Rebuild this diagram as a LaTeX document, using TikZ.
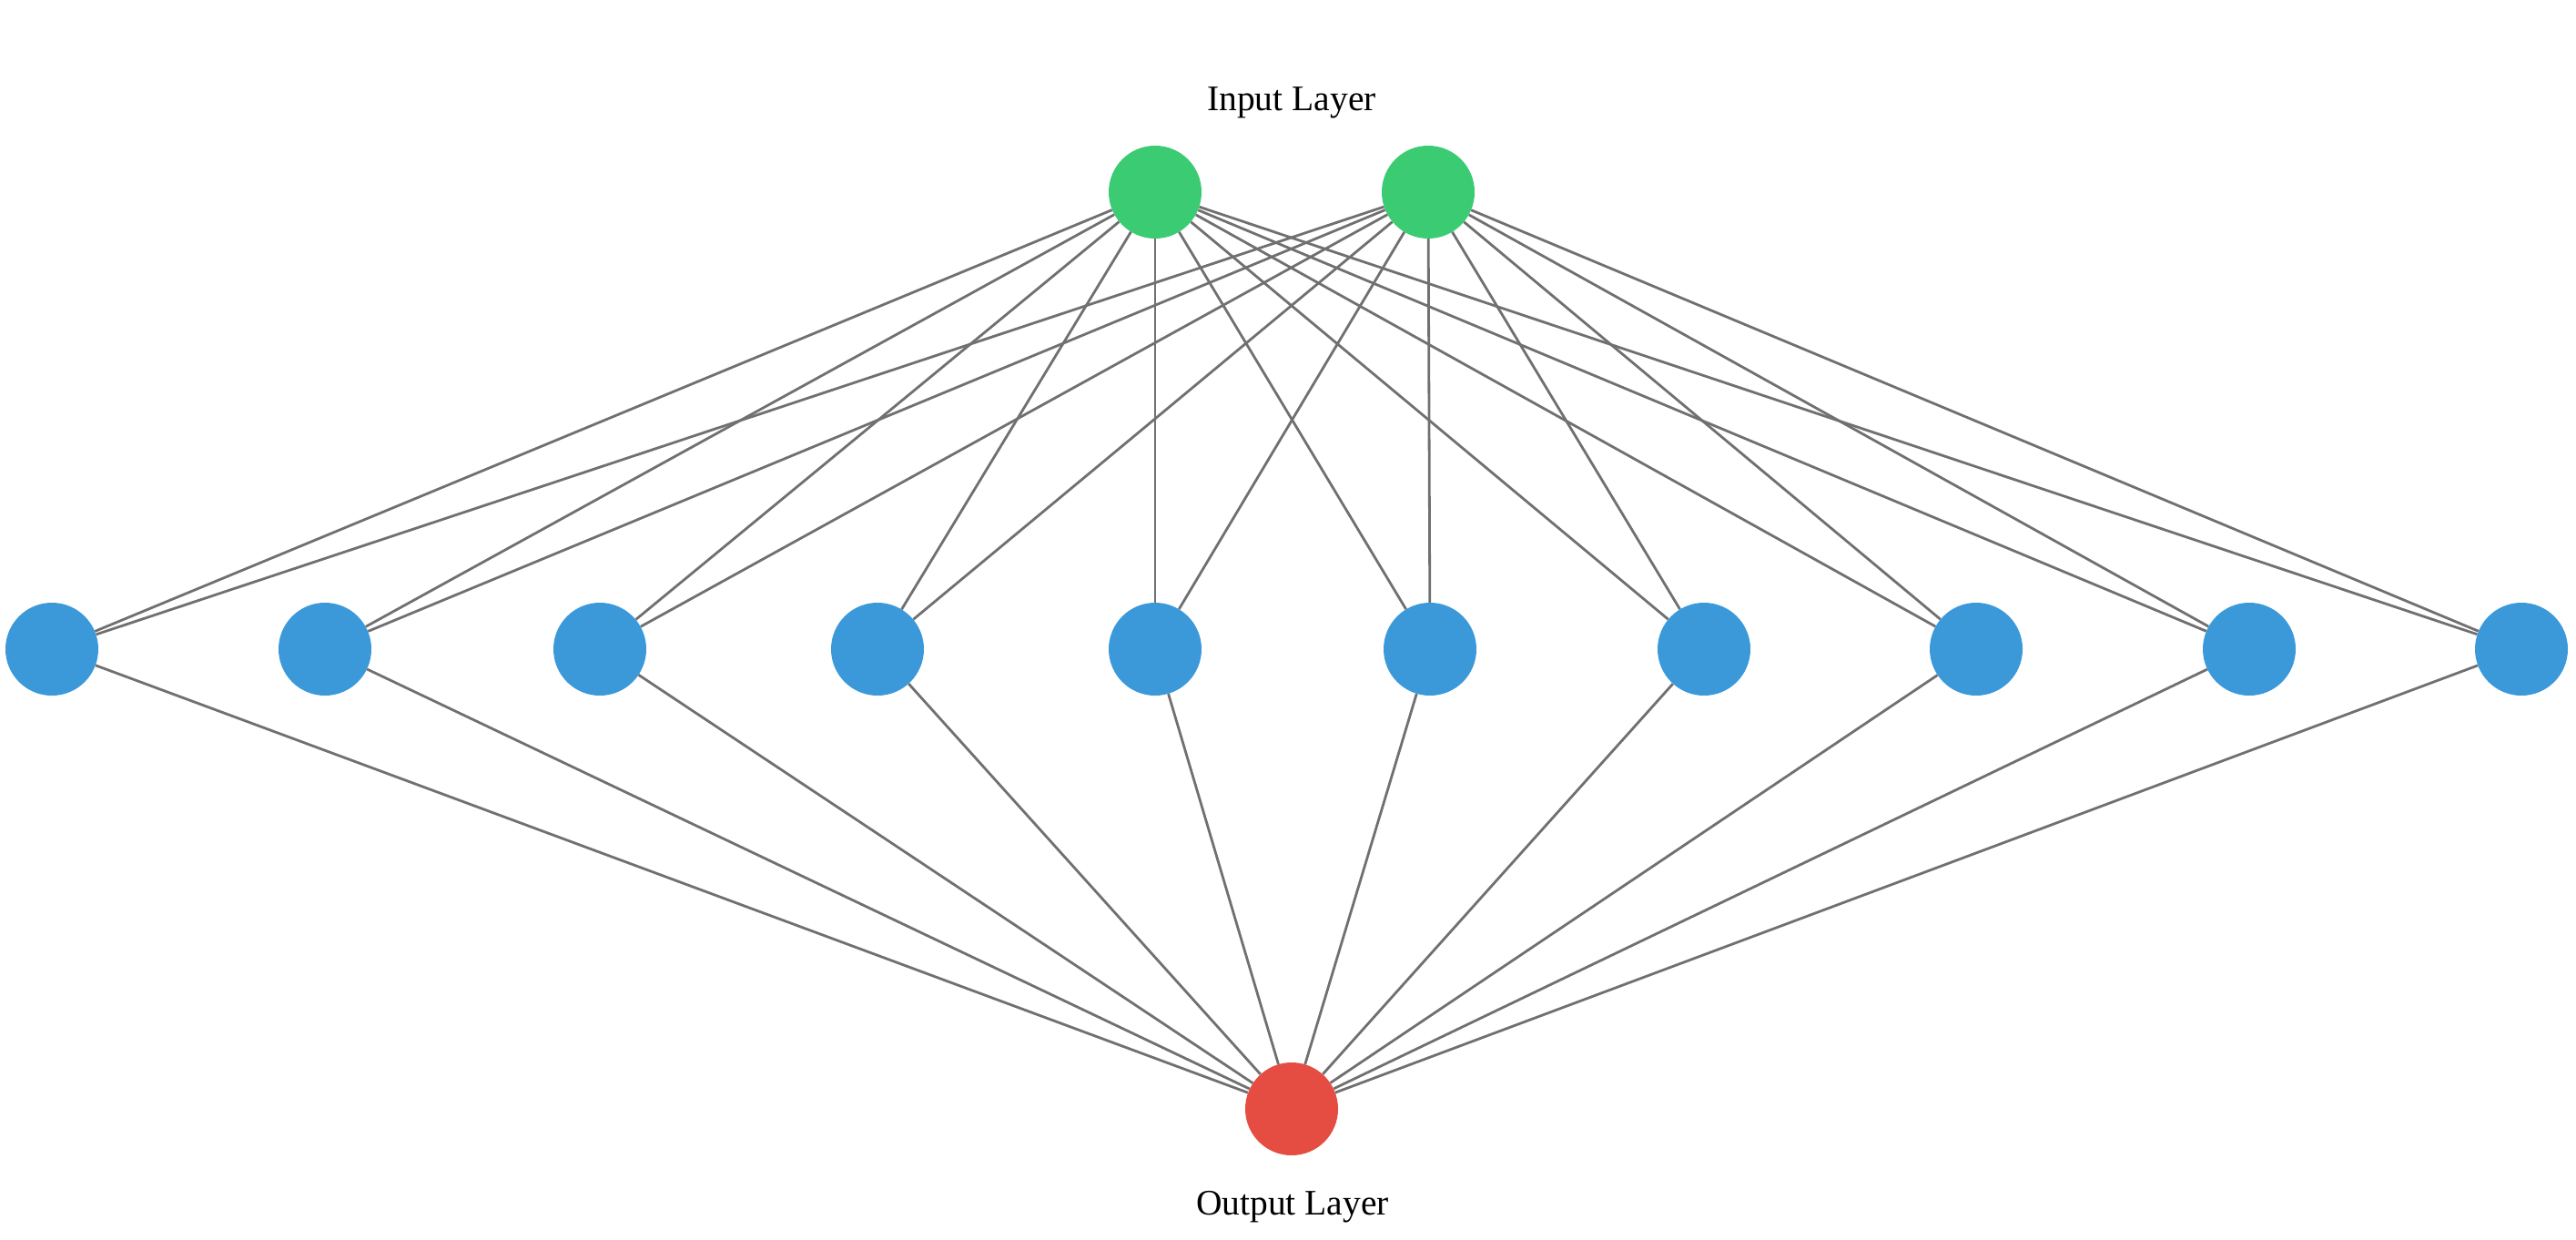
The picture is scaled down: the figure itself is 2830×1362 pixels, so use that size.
\documentclass[tikz,border=0pt]{standalone}
\usepackage{fontspec}
\setmainfont{Liberation Serif}
\definecolor{ingreen}{HTML}{3ACB73}
\definecolor{hidblue}{HTML}{3B99D9}
\definecolor{outred}{HTML}{E54D42}
\definecolor{edgegray}{HTML}{707070}
\begin{document}
\begin{tikzpicture}[x=1pt,y=-1pt,
  neuron/.style={circle,inner sep=0pt,minimum size=102pt,draw=none},
  innode/.style={neuron,fill=ingreen},
  hidnode/.style={neuron,fill=hidblue},
  outnode/.style={neuron,fill=outred},
  edge/.style={draw=edgegray,line width=2.8pt},
  lbl/.style={font=\fontsize{39.5}{46}\selectfont,anchor=base,text=black}]
\useasboundingbox[fill=white] (0,0) rectangle (2830,1362);
\node[innode] (i1) at (1269,211) {};
\node[innode] (i2) at (1569,211) {};
\foreach \n/\x in {1/57,2/357,3/659,4/964,5/1269,6/1571,7/1872,8/2171,9/2471,10/2770}{
  \node[hidnode] (h\n) at (\x,713) {};
}
\node[outnode] (o) at (1419,1218) {};
\foreach \n in {1,...,10}{
  \draw[edge] (i1) -- (h\n);
  \draw[edge] (i2) -- (h\n);
  \draw[edge] (h\n) -- (o);
}
\node[lbl] (tin) at (1419,122) {Input Layer};
\node[lbl] (tout) at (1420,1334) {Output Layer};
\end{tikzpicture}
\end{document}
